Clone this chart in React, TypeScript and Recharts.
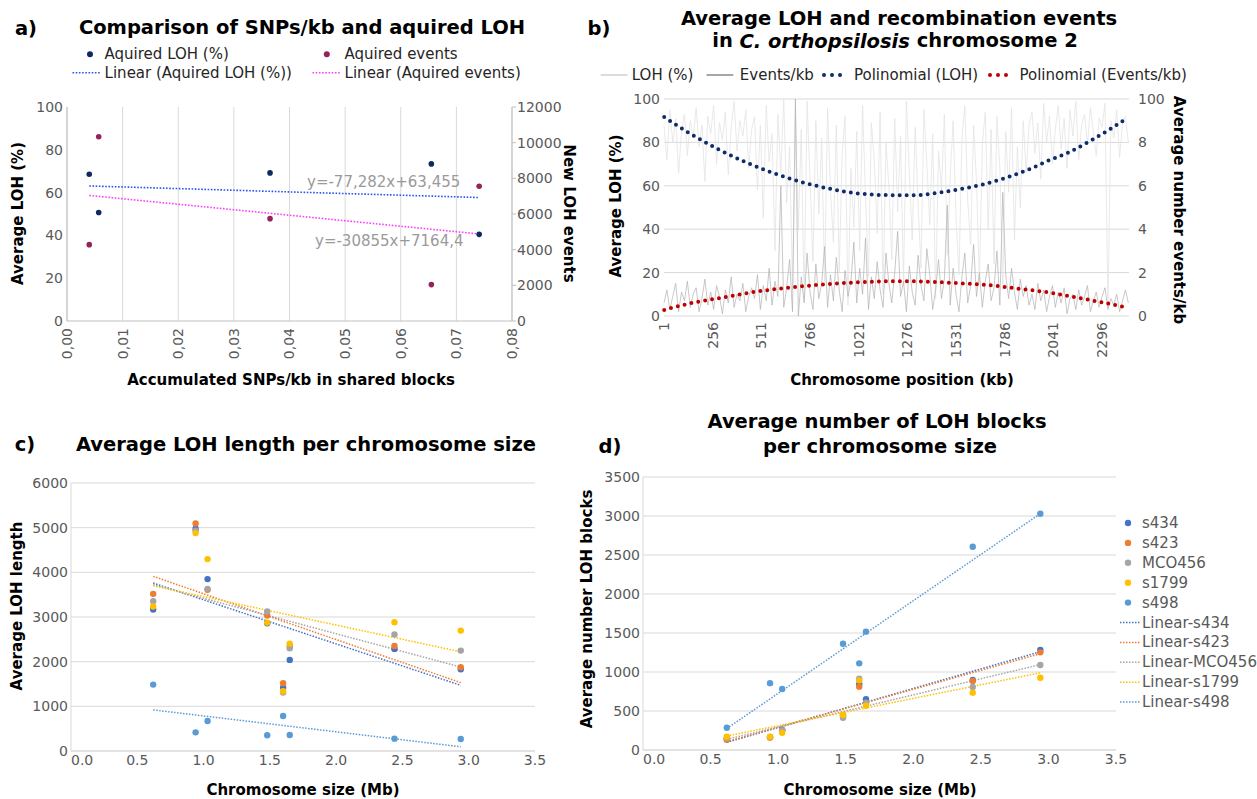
import React from 'react'
import { ComposedChart, Scatter, Line, XAxis, YAxis, CartesianGrid } from 'recharts'

const FONT = '"DejaVu Sans", Verdana, sans-serif'
const TICK_GREY = '#595959'
const GRID = '#d9d9d9'

// ---------- a) SNPs/kb vs aquired LOH ----------
const A_SNPS = [0.004, 0.0057, 0.0365, 0.0655, 0.0741]
const A_LOH = [68.6, 50.7, 69.2, 73.4, 40.5]
const A_EVENTS = [4280, 10330, 5740, 2040, 7560]
const A_FIT_X = [0.004, 0.0741]
const A_LOH_FIT = [63.1, 57.7]
const A_EVENTS_FIT = [7040, 4880]
const A_X_TICKS = [0, 0.01, 0.02, 0.03, 0.04, 0.05, 0.06, 0.07, 0.08]
const A_LOH_TICKS = [0, 20, 40, 60, 80, 100]
const A_EVENT_TICKS = [0, 2000, 4000, 6000, 8000, 10000, 12000]
const A_LEGEND = ['Aquired LOH (%)', 'Aquired events', 'Linear (Aquired LOH (%))', 'Linear (Aquired events)']
const A_EQUATIONS = ['y=-77,282x+63,455', 'y=-30855x+7164,4']

// ---------- b) LOH along chromosome 2 ----------
const B_X_TICKS = [1, 256, 511, 766, 1021, 1276, 1531, 1786, 2041, 2296]
const B_LEFT_TICKS = [0, 20, 40, 60, 80, 100]
const B_RIGHT_TICKS = [0, 2, 4, 6, 8, 10]
const B_RIGHT_LABELS = ['0', '2', '4', '6', '8', '100']
const NOISE_KB_STEP = 15.3
// LOH (%) per window
const B_LOH_NOISE = [
  88, 72, 95, 80, 91, 66, 85, 93, 74, 90, 82, 96, 78, 88, 62, 92, 84, 97, 70, 89,
  81, 94, 65, 87, 99, 76, 90, 83, 95, 68, 86, 92, 58, 88, 45, 97, 71, 84, 30, 93,
  66, 100, 52, 78, 12, 95, 40, 86, 8, 99, 63, 25, 90, 47, 82, 15, 96, 58, 34, 88,
  20, 74, 92, 5, 68, 41, 85, 30, 97, 55, 18, 89, 72, 38, 94, 10, 80, 60, 26, 91,
  48, 83, 14, 99, 66, 35, 87, 52, 22, 95, 70, 42, 84, 8, 76, 58, 93, 28, 64, 90,
  45, 19, 81, 97, 53, 33, 88, 62, 15, 79, 94, 40, 86, 24, 92, 68, 12, 85, 57, 96,
  35, 78, 50, 90, 66, 88, 94, 75, 89, 63, 98, 80, 92, 70, 86, 97, 77, 91, 68, 95,
  83, 99, 72, 88, 93, 79, 96, 85, 74, 91, 87, 98, 4, 90, 82, 95, 73, 89, 92, 80,
]
// events/kb per window (right axis), darker grey trace
const B_EVENTS_NOISE = [
  0.6, 1.2, 0.3, 0.9, 1.5, 0.2, 1.1, 0.7, 1.6, 0.4, 1.0, 1.3, 0.2, 0.8, 1.7, 0.5, 1.1, 0.3, 1.4, 0.9,
  0.1, 1.2, 0.6, 1.8, 0.4, 1.0, 0.7, 1.5, 0.2, 0.9, 1.3, 0.8, 1.9, 0.3, 1.4, 0.7, 2.2, 0.5, 1.6, 0.9,
  6.0, 0.4, 1.3, 2.6, 0.2, 10, 0.0, 1.8, 0.6, 2.9, 1.1, 0.3, 2.4, 0.8, 1.5, 3.2, 0.4, 1.9, 0.7, 2.7,
  1.2, 0.2, 2.1, 0.9, 1.6, 3.4, 0.6, 2.2, 1.0, 3.6, 0.3, 1.8, 0.8, 2.5, 1.2, 0.4, 2.9, 1.5, 0.6, 2.0,
  3.9, 0.9, 1.6, 0.2, 2.3, 1.1, 0.5, 2.8, 1.4, 0.7, 3.1, 1.9, 0.3, 1.2, 2.6, 0.8, 1.7, 5.1, 0.5, 2.2,
  1.0, 0.2, 1.8, 2.9, 0.6, 1.4, 3.3, 0.9, 2.0, 0.4, 1.6, 2.4, 0.7, 1.3, 3.0, 0.5, 5.7, 1.9, 0.8, 2.2,
  1.1, 0.3, 1.7, 0.9, 1.4, 0.5, 1.0, 0.3, 1.5, 0.7, 1.2, 0.2, 0.9, 1.4, 0.4, 1.1, 0.6, 1.3, 0.1, 0.8,
  1.0, 0.3, 1.2, 0.5, 0.9, 1.4, 0.2, 0.7, 1.1, 0.4, 0.9, 1.3, 0.3, 0.8, 0.5, 1.0, 0.2, 0.7, 1.2, 0.6,
]
const B_POLY_LOH_KB = [2, 137, 277, 421, 569, 723, 877, 1035, 1196, 1318, 1435, 1554, 1671, 1786, 1900, 2012, 2121, 2226, 2331, 2432]
const B_POLY_LOH = [91.7, 84.1, 77.2, 71.2, 66, 61.7, 58.5, 56.3, 55.7, 55.7, 56.8, 58.5, 60.6, 63.5, 67.1, 71.5, 75.4, 80.3, 85.7, 91.5]
const B_POLY_EV_KB = [2, 158, 316, 473, 631, 788, 945, 1108, 1187, 1309, 1432, 1545, 1668, 1786, 1904, 2021, 2140, 2259, 2376, 2420]
const B_POLY_EV = [0.28, 0.62, 0.86, 1.11, 1.28, 1.42, 1.52, 1.58, 1.6, 1.6, 1.56, 1.51, 1.45, 1.34, 1.21, 1.08, 0.89, 0.69, 0.49, 0.4]
const B_LEGEND = ['LOH (%)', 'Events/kb', 'Polinomial (LOH)', 'Polinomial (Events/kb)']

// ---------- c) / d) per chromosome ----------
const CHROM_SIZE = [0.62, 0.94, 1.03, 1.48, 1.6, 1.65, 2.44, 2.94]
const STRAINS = ['s434', 's423', 'MCO456', 's1799', 's498']
const STRAIN_COLORS = ['#4472C4', '#ED7D31', '#A5A5A5', '#FFC000', '#5B9BD5']
const SIZE_TICKS = [0, 0.5, 1, 1.5, 2, 2.5, 3, 3.5]

const C_S434 = [3167, 4975, 3848, 2861, 1419, 2039, 2286, 1831]
const C_S423 = [3518, 5095, 3608, 3032, 1517, 2350, 2353, 1876]
const C_MCO456 = [3355, 4930, 3630, 3122, 1307, 2301, 2607, 2248]
const C_S1799 = [3235, 4878, 4296, 2875, 1337, 2405, 2884, 2696]
const C_S498 = [1487, 418, 672, 351, 784, 359, 276, 269]
const C_FITS = [[3760, 1470], [3910, 1530], [3720, 1880], [3700, 2220], [920, 95]]
const C_Y_TICKS = [0, 1000, 2000, 3000, 4000, 5000, 6000]

const D_S434 = [140, 165, 256, 440, 842, 650, 897, 1282]
const D_S423 = [130, 160, 250, 445, 812, 598, 885, 1252]
const D_MCO456 = [150, 168, 252, 414, 914, 607, 808, 1090]
const D_S1799 = [170, 171, 220, 449, 893, 568, 735, 927]
const D_S498 = [286, 857, 782, 1363, 1111, 1517, 2606, 3029]
const D_FITS = [[98, 1260], [107, 1235], [137, 1095], [179, 990], [275, 3030]]
const D_Y_TICKS = [0, 500, 1000, 1500, 2000, 2500, 3000, 3500]

const tickStyle = { fill: TICK_GREY, fontSize: 14, fontFamily: FONT }

const dot = (r: number, fill: string) => (p: any) =>
  p.cx == null ? <g /> : <circle cx={p.cx} cy={p.cy} r={r} fill={fill} />

function rotatedTick(fmt: (v: number) => string) {
  return (p: any) => (
    <text
      x={p.x}
      y={p.y}
      transform={`rotate(-90 ${p.x} ${p.y})`}
      textAnchor="end"
      dy="0.35em"
      fill={TICK_GREY}
      fontSize={14}
      fontFamily={FONT}
    >
      {fmt(p.payload.value)}
    </text>
  )
}

// first size label sits just right of the y axis, as in the original
const sizeTick = (p: any) => (
  <text
    x={p.x}
    y={p.y}
    dy="0.71em"
    textAnchor={p.payload.value === 0 ? 'start' : 'middle'}
    fill={TICK_GREY}
    fontSize={14}
    fontFamily={FONT}
  >
    {Number(p.payload.value).toFixed(1)}
  </text>
)

function PanelA() {
  const loh = A_SNPS.map((x, i) => ({ x, y: A_LOH[i] }))
  const events = A_SNPS.map((x, i) => ({ x, y: A_EVENTS[i] }))
  const lohFit = A_FIT_X.map((x, i) => ({ x, y: A_LOH_FIT[i] }))
  const evFit = A_FIT_X.map((x, i) => ({ x, y: A_EVENTS_FIT[i] }))
  return (
    <div style={{ position: 'absolute', left: 0, top: 0 }}>
      <ComposedChart width={600} height={400} margin={{ top: 107, right: 40, bottom: 0, left: 0 }}>
        <CartesianGrid vertical horizontal={false} stroke={GRID} yAxisId="l" />
        <XAxis
          type="number"
          dataKey="x"
          domain={[0, 0.08]}
          ticks={A_X_TICKS}
          interval={0}
          height={79}
          axisLine={{ stroke: '#bfbfbf' }}
          tickLine={false}
          tickSize={5}
          tickMargin={2}
          tick={rotatedTick((v) => v.toFixed(2).replace('.', ','))}
        />
        <YAxis yAxisId="l" dataKey="y" domain={[0, 100]} ticks={A_LOH_TICKS} width={67} axisLine={{ stroke: '#bfbfbf' }} tickLine={false} tickSize={0} tickMargin={4} tick={tickStyle} />
        <YAxis yAxisId="r" dataKey="y" orientation="right" domain={[0, 12000]} ticks={A_EVENT_TICKS} width={48} axisLine={{ stroke: '#bfbfbf' }} tickLine={{ stroke: '#bfbfbf' }} tickSize={4} tickMargin={1} tick={tickStyle} />
        <Line yAxisId="l" data={lohFit} dataKey="y" type="linear" stroke="#2b52f2" strokeWidth={1.6} strokeDasharray="1.6 1.6" dot={false} isAnimationActive={false} />
        <Line yAxisId="r" data={evFit} dataKey="y" type="linear" stroke="#ff3dff" strokeWidth={1.6} strokeDasharray="1.6 1.6" dot={false} isAnimationActive={false} />
        <Scatter yAxisId="l" data={loh} dataKey="y" shape={dot(2.8, '#0f2a5f')} isAnimationActive={false} />
        <Scatter yAxisId="r" data={events} dataKey="y" shape={dot(2.8, '#93245a')} isAnimationActive={false} />
      </ComposedChart>
    </div>
  )
}

function PanelB() {
  const lohNoise = B_LOH_NOISE.map((y, i) => ({ x: 1 + i * NOISE_KB_STEP, y }))
  const evNoise = B_EVENTS_NOISE.map((y, i) => ({ x: 1 + i * NOISE_KB_STEP, y }))
  const polyLoh = B_POLY_LOH_KB.map((x, i) => ({ x, y: B_POLY_LOH[i] }))
  const polyEv = B_POLY_EV_KB.map((x, i) => ({ x, y: B_POLY_EV[i] }))
  return (
    <div style={{ position: 'absolute', left: 580, top: 0 }}>
      <ComposedChart width={677} height={400} margin={{ top: 99, right: 0, bottom: 0, left: 0 }}>
        <CartesianGrid horizontal vertical={false} stroke={GRID} yAxisId="l" />
        <XAxis
          type="number"
          dataKey="x"
          domain={[1, 2437]}
          ticks={B_X_TICKS}
          interval={0}
          height={84}
          axisLine={false}
          tickLine={false}
          tickSize={0}
          tickMargin={6}
          tick={rotatedTick((v) => String(v))}
        />
        <YAxis yAxisId="l" dataKey="y" domain={[0, 100]} ticks={B_LEFT_TICKS} width={84} axisLine={false} tickLine={false} tickSize={0} tickMargin={4} tick={tickStyle} />
        <YAxis
          yAxisId="r"
          dataKey="y"
          orientation="right"
          domain={[0, 10]}
          ticks={B_RIGHT_TICKS}
          width={128}
          axisLine={false}
          tickLine={false}
          tickSize={0}
          tickMargin={9}
          tick={tickStyle}
          tickFormatter={(v) => B_RIGHT_LABELS[B_RIGHT_TICKS.indexOf(v)] ?? String(v)}
        />
        <Line yAxisId="l" data={lohNoise} dataKey="y" type="linear" stroke="#e3e3e3" strokeWidth={0.8} dot={false} isAnimationActive={false} />
        <Line yAxisId="r" data={evNoise} dataKey="y" type="linear" stroke="#b0b0b0" strokeWidth={0.7} dot={false} isAnimationActive={false} />
        <Line yAxisId="l" data={polyLoh} dataKey="y" type="monotone" stroke="#0e2c6a" strokeWidth={4} strokeDasharray="0 7" strokeLinecap="round" dot={false} isAnimationActive={false} />
        <Line yAxisId="r" data={polyEv} dataKey="y" type="monotone" stroke="#c00000" strokeWidth={4} strokeDasharray="0 7" strokeLinecap="round" dot={false} isAnimationActive={false} />
      </ComposedChart>
    </div>
  )
}

function StrainChart(props: {
  left: number
  top: number
  width: number
  height: number
  margin: { top: number; right: number; bottom: number; left: number }
  yWidth: number
  xHeight: number
  yMax: number
  yTicks: number[]
  series: number[][]
  fits: number[][]
}) {
  const xs = [CHROM_SIZE[0], CHROM_SIZE[CHROM_SIZE.length - 1]]
  return (
    <div style={{ position: 'absolute', left: props.left, top: props.top }}>
      <ComposedChart width={props.width} height={props.height} margin={props.margin}>
        <CartesianGrid horizontal vertical={false} stroke={GRID} />
        <XAxis
          type="number"
          dataKey="x"
          domain={[0, 3.5]}
          ticks={SIZE_TICKS}
          interval={0}
          height={props.xHeight}
          axisLine={{ stroke: GRID }}
          tickLine={false}
          tickSize={0}
          tickMargin={4}
          tick={sizeTick}
        />
        <YAxis dataKey="y" domain={[0, props.yMax]} ticks={props.yTicks} width={props.yWidth} axisLine={{ stroke: GRID }} tickLine={false} tickSize={0} tickMargin={3} tick={tickStyle} />
        {props.series.map((vals, s) => (
          <Scatter
            key={'p' + s}
            data={CHROM_SIZE.map((x, i) => ({ x, y: vals[i] }))}
            dataKey="y"
            shape={dot(3.2, STRAIN_COLORS[s])}
            isAnimationActive={false}
          />
        ))}
        {props.fits.map((f, s) => (
          <Line
            key={'f' + s}
            data={xs.map((x, i) => ({ x, y: f[i] }))}
            dataKey="y"
            type="linear"
            stroke={STRAIN_COLORS[s]}
            strokeWidth={1.5}
            strokeDasharray="1.5 1.5"
            dot={false}
            isAnimationActive={false}
          />
        ))}
      </ComposedChart>
    </div>
  )
}

function T(p: { x: number; y: number; s?: number; b?: boolean; c?: string; a?: 'start' | 'middle'; r?: number; children: React.ReactNode }) {
  return (
    <text
      x={p.x}
      y={p.y}
      fontSize={p.s ?? 15}
      fontWeight={p.b ? 'bold' : 'normal'}
      fill={p.c ?? '#000'}
      textAnchor={p.a ?? 'middle'}
      dominantBaseline="central"
      fontFamily={FONT}
      transform={p.r ? `rotate(${p.r} ${p.x} ${p.y})` : undefined}
    >
      {p.children}
    </text>
  )
}

function Overlay() {
  const legendRowY = (i: number) => 523 + i * 19.9
  return (
    <svg width={1257} height={799} style={{ position: 'absolute', left: 0, top: 0, pointerEvents: 'none' }}>
      {/* a) */}
      <T x={26} y={28} s={19.5} b>a)</T>
      <T x={302} y={27} s={19.5} b>Comparison of SNPs/kb and aquired LOH</T>
      <circle cx={90} cy={54.3} r={3} fill="#0f2a5f" />
      <T x={104.6} y={54.3} a="start" c="#262626">{A_LEGEND[0]}</T>
      <circle cx={326.8} cy={54.3} r={3} fill="#93245a" />
      <T x={344.6} y={54.3} a="start" c="#262626">{A_LEGEND[1]}</T>
      <line x1={72.5} x2={100} y1={72.7} y2={72.7} stroke="#2b52f2" strokeWidth={1.6} strokeDasharray="1.6 1.6" />
      <T x={104.6} y={72.7} a="start" c="#262626">{A_LEGEND[2]}</T>
      <line x1={312.5} x2={340} y1={72.7} y2={72.7} stroke="#ff3dff" strokeWidth={1.6} strokeDasharray="1.6 1.6" />
      <T x={344.6} y={72.7} a="start" c="#262626">{A_LEGEND[3]}</T>
      <T x={307} y={181.7} a="start" c="#9a9a9a">{A_EQUATIONS[0]}</T>
      <T x={315} y={241} a="start" c="#9a9a9a">{A_EQUATIONS[1]}</T>
      <T x={18} y={213.5} b r={-90}>Average LOH (%)</T>
      <T x={569} y={213.5} b r={90}>New LOH events</T>
      <T x={291} y={380} b>Accumulated SNPs/kb in shared blocks</T>

      {/* b) */}
      <T x={599} y={28.3} s={19.5} b>b)</T>
      <T x={899} y={18.3} s={19.5} b>Average LOH and recombination events</T>
      <text x={895} y={40.7} fontSize={19.5} fontWeight="bold" textAnchor="middle" dominantBaseline="central" fontFamily={FONT}>
        in <tspan fontStyle="italic">C. orthopsilosis</tspan> chromosome 2
      </text>
      <line x1={600.7} x2={627.5} y1={75} y2={75} stroke="#d0d0d0" strokeWidth={1.5} />
      <T x={631.8} y={75} a="start" c="#262626">{B_LEGEND[0]}</T>
      <line x1={706.5} x2={733.3} y1={75} y2={75} stroke="#8a8a8a" strokeWidth={1.5} />
      <T x={739.8} y={75} a="start" c="#262626">{B_LEGEND[1]}</T>
      <line x1={824} x2={848} y1={75} y2={75} stroke="#0e2c6a" strokeWidth={4} strokeDasharray="0 8" strokeLinecap="round" />
      <T x={854} y={75} a="start" c="#262626">{B_LEGEND[2]}</T>
      <line x1={990} x2={1014} y1={75} y2={75} stroke="#c00000" strokeWidth={4} strokeDasharray="0 8" strokeLinecap="round" />
      <T x={1019.5} y={75} a="start" c="#262626">{B_LEGEND[3]}</T>
      <T x={615.5} y={206} b r={-90}>Average LOH (%)</T>
      <T x={1178.5} y={210} b r={90}>Average number events/kb</T>
      <T x={902} y={380} b>Chromosome position (kb)</T>

      {/* c) */}
      <T x={25} y={444} s={19.5} b>c)</T>
      <T x={306} y={444} s={19.5} b>Average LOH length per chromosome size</T>
      <T x={17} y={606} b r={-90}>Average LOH length</T>
      <T x={303} y={790} b>Chromosome size (Mb)</T>

      {/* d) */}
      <T x={610} y={446.7} s={19.5} b>d)</T>
      <T x={877} y={421.7} s={19.5} b>Average number of LOH blocks</T>
      <T x={880} y={446.7} s={19.5} b>per chromosome size</T>
      <T x={586.7} y={609} b r={-90}>Average number LOH blocks</T>
      <T x={880} y={790} b>Chromosome size (Mb)</T>
      {STRAINS.map((name, i) => (
        <g key={'ld' + i}>
          <circle cx={1128} cy={legendRowY(i)} r={3.2} fill={STRAIN_COLORS[i]} />
          <T x={1142} y={legendRowY(i)} a="start" c={TICK_GREY}>{name}</T>
        </g>
      ))}
      {STRAINS.map((name, i) => (
        <g key={'ll' + i}>
          <line x1={1120} x2={1140} y1={legendRowY(i + 5)} y2={legendRowY(i + 5)} stroke={STRAIN_COLORS[i]} strokeWidth={1.5} strokeDasharray="1.5 1.5" />
          <T x={1142} y={legendRowY(i + 5)} a="start" c={TICK_GREY}>{'Linear-' + name}</T>
        </g>
      ))}
    </svg>
  )
}

export default function App() {
  return (
    <div style={{ position: 'absolute', left: 0, top: 0, width: 1257, height: 799, background: '#fff', fontFamily: FONT, overflow: 'hidden' }}>
      <PanelA />
      <PanelB />
      <StrainChart
        left={0}
        top={420}
        width={560}
        height={379}
        margin={{ top: 63, right: 25, bottom: 0, left: 0 }}
        yWidth={71}
        xHeight={48}
        yMax={6000}
        yTicks={C_Y_TICKS}
        series={[C_S434, C_S423, C_MCO456, C_S1799, C_S498]}
        fits={C_FITS}
      />
      <StrainChart
        left={560}
        top={400}
        width={697}
        height={399}
        margin={{ top: 77, right: 141, bottom: 0, left: 0 }}
        yWidth={83}
        xHeight={49}
        yMax={3500}
        yTicks={D_Y_TICKS}
        series={[D_S434, D_S423, D_MCO456, D_S1799, D_S498]}
        fits={D_FITS}
      />
      <Overlay />
    </div>
  )
}
